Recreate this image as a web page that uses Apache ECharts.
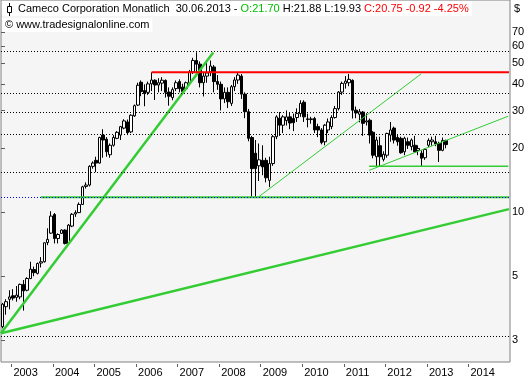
<!DOCTYPE html>
<html lang="de">
<head>
    <title>Cameco Corporation Monatlich</title>
    <meta charset="utf-8" />
    <script src="https://cdn.jsdelivr.net/npm/echarts@6/dist/echarts.min.js"></script>
    <style>
        body { margin: 0; background-color: #ffffff; }
        #main { width: 531px; height: 378px; }
    </style>
</head>
<body>
<div id="main"></div>
<script>
    // Monatskerzen ab Okt 2002, Achse bis Dez 2014
    let firstYear = 2002
    let firstMonth = 10
    let monthCount = 147

    let opens = [2.90, 3.60, 3.90,
        4.05, 3.98, 4.00, 4.58, 4.30, 4.88, 5.38, 5.16, 5.77, 5.85, 7.20, 7.97,
        9.75, 7.52, 7.95, 8.24, 7.13, 8.60, 9.80, 9.95, 10.87, 13.20, 13.40, 16.40,
        17.50, 17.00, 23.00, 22.00, 18.60, 20.60, 22.20, 23.00, 24.80, 26.50, 23.80, 28.30,
        31.80, 40.70, 37.20, 36.50, 40.00, 41.60, 39.50, 40.30, 41.50, 36.60, 34.50, 38.00,
        41.00, 38.60, 38.00, 40.50, 45.50, 51.50, 49.50, 40.50, 43.50, 45.50, 48.00, 41.00,
        39.80, 34.00, 36.50, 32.40, 38.80, 41.70, 43.50, 35.80, 29.60, 22.40, 18.90, 16.50,
        17.50, 17.50, 14.10, 16.90, 22.60, 27.60, 25.60, 26.90, 28.00, 27.50, 27.80, 29.00,
        32.80, 27.40, 27.20, 27.50, 25.20, 24.30, 21.40, 24.30, 25.20, 27.80, 30.60, 36.60,
        40.20, 40.50, 41.50, 30.10, 28.80, 29.50, 26.50, 27.00, 23.70, 18.20, 20.50, 17.70,
        18.50, 23.00, 24.80, 22.40, 22.20, 19.20, 21.40, 20.30, 20.60, 19.50, 18.90, 18.00,
        20.60, 21.40, 21.40, 21.00, 19.50, 21.70]
    let highs = [3.75, 3.90, 4.30,
        4.35, 4.50, 4.62, 4.80, 4.95, 5.85, 5.55, 5.80, 6.15, 7.20, 8.40, 10.10,
        9.90, 7.95, 8.30, 8.30, 8.80, 9.90, 10.20, 11.10, 13.30, 13.80, 16.60, 17.30,
        18.20, 22.60, 24.50, 22.50, 21.00, 23.00, 24.00, 25.40, 27.30, 27.20, 28.80, 32.00,
        40.50, 41.50, 39.80, 41.00, 45.30, 42.00, 42.50, 43.00, 42.00, 38.50, 38.50, 41.50,
        42.00, 40.00, 41.00, 46.50, 53.00, 56.30, 51.00, 45.50, 50.50, 51.50, 49.00, 44.00,
        41.00, 38.50, 38.50, 39.50, 43.00, 45.20, 44.50, 36.50, 30.50, 22.80, 21.80, 21.00,
        20.60, 18.00, 18.20, 23.00, 28.50, 29.50, 28.50, 30.00, 29.50, 29.00, 30.70, 33.50,
        33.50, 29.00, 28.00, 28.00, 26.00, 24.80, 25.90, 27.50, 28.50, 31.50, 37.00, 41.00,
        43.50, 44.50, 42.00, 31.30, 30.50, 29.80, 29.10, 27.50, 24.00, 22.60, 22.60, 19.30,
        23.60, 26.50, 25.20, 23.00, 22.60, 22.60, 22.40, 22.20, 22.80, 20.60, 19.50, 19.90,
        22.20, 22.60, 22.80, 21.40, 22.40, 21.88]
    let lows = [2.85, 3.30, 3.50,
        3.85, 3.80, 3.90, 3.45, 4.25, 4.85, 5.00, 5.10, 5.50, 5.80, 7.00, 7.90,
        7.13, 7.13, 7.90, 7.05, 7.05, 8.50, 9.50, 9.90, 10.80, 12.90, 13.20, 16.00,
        15.40, 16.90, 18.00, 18.20, 18.00, 20.30, 22.00, 21.80, 24.50, 23.00, 23.50, 28.00,
        31.50, 35.00, 31.40, 35.50, 37.00, 33.60, 36.50, 37.00, 34.50, 31.60, 33.50, 37.00,
        36.50, 35.50, 37.00, 39.80, 44.50, 45.00, 38.50, 34.90, 40.50, 43.50, 36.50, 37.50,
        30.00, 32.50, 30.80, 31.50, 37.00, 40.00, 34.00, 27.60, 21.50, 11.80, 11.80, 14.00,
        14.90, 13.80, 13.10, 16.50, 22.00, 22.80, 23.50, 25.50, 24.50, 24.00, 26.50, 28.00,
        26.50, 25.00, 26.00, 23.50, 22.50, 20.80, 20.60, 23.50, 24.50, 27.50, 30.00, 35.50,
        38.00, 39.00, 27.50, 27.60, 26.40, 22.80, 25.50, 21.00, 17.90, 16.30, 16.30, 17.30,
        18.00, 21.40, 21.00, 20.50, 18.80, 18.50, 19.80, 19.50, 19.00, 18.50, 16.40, 17.60,
        20.20, 20.50, 20.40, 17.20, 19.30, 19.93]
    let closes = [3.70, 3.80, 4.00,
        3.95, 4.08, 4.58, 4.27, 4.88, 5.40, 5.20, 5.74, 5.85, 7.18, 7.45, 9.58,
        7.52, 7.85, 8.24, 7.13, 8.69, 9.77, 9.95, 10.87, 13.15, 13.40, 16.40, 17.00,
        17.00, 22.40, 21.80, 19.20, 20.60, 22.40, 23.70, 25.20, 26.80, 23.60, 28.50, 31.60,
        39.40, 36.80, 36.00, 40.00, 41.70, 39.50, 40.50, 41.60, 36.50, 35.00, 37.60, 40.50,
        38.00, 36.80, 40.50, 45.50, 51.50, 49.50, 40.50, 43.50, 45.00, 48.50, 41.00, 39.80,
        34.00, 36.50, 33.00, 38.80, 41.70, 44.00, 35.80, 29.60, 22.20, 16.00, 16.00, 17.60,
        16.30, 14.50, 16.90, 22.60, 28.00, 25.60, 28.00, 28.00, 26.20, 26.30, 29.00, 32.40,
        28.00, 27.20, 27.40, 24.30, 24.30, 21.20, 25.60, 26.50, 27.80, 30.60, 36.60, 40.20,
        41.20, 42.00, 30.10, 29.20, 29.60, 26.10, 26.80, 23.00, 18.50, 21.80, 18.20, 18.70,
        23.40, 24.30, 21.80, 21.40, 19.00, 22.20, 20.60, 21.80, 19.20, 19.90, 17.90, 19.70,
        21.70, 21.80, 20.90, 19.50, 21.70, 20.75]

    // Preisachse (logarithmisch), Beschriftung gerundet
    let priceTicks = [70, 60, 50, 40, 30, 20, 10, 5, 2.5]
    let priceTop = 99
    let priceBottom = 1.98
    let dottedLevels = [57, 36.2, 29.5, 23.2, 15.4, 2.62]
    let blueLevel = 11.76
    let years = [2003, 2004, 2005, 2006, 2007, 2008, 2009, 2010, 2011, 2012, 2013, 2014]

    // Linien: [Monatsposition ab Okt 2002, Kurs]
    let steepTrend = [[0, 2.7], [61.3, 56.2]]
    let longTrend = [[0, 2.7], [146.7, 10.33]]
    let resistance = [[43.5, 45.3], [146.7, 45.3]]
    let supportLow = [[11.5, 11.76], [146.7, 11.76]]
    let recoveryTrend = [[74.3, 11.76], [121.3, 44.5]]
    let rangeTrend = [[106.3, 15.7], [146.5, 28.2]]
    let rangeLow = [[106.3, 16.4], [146.5, 16.4]]

    let months = []
    for (let i = 0; i < monthCount; i++) {
        let m = firstMonth - 1 + i
        let y = firstYear + Math.floor(m / 12)
        months.push(y + '-' + String(m % 12 + 1).padStart(2, '0'))
    }
    let candles = opens.map((o, i) => [Math.log(o), Math.log(closes[i]), Math.log(lows[i]), Math.log(highs[i])])
    let yearPos = years.map(y => (y - firstYear) * 12 - (firstMonth - 1))
    let logLine = pts => pts.map(p => [p[0], Math.log(p[1])])

    let font = 'Liberation Sans'
    let green = '#33cc33'

    let chart = echarts.init(document.getElementById('main'), null, {renderer: 'canvas'})

    function trend(name, pts, color, width) {
        return {
            name: name,
            type: 'line',
            xAxisIndex: 1,
            data: logLine(pts),
            showSymbol: false,
            silent: true,
            z: 4,
            animation: false,
            lineStyle: {color: color, width: width}
        }
    }

    chart.setOption({
        animation: false,
        title: [
            {
                left: 2,
                top: 1,
                padding: [2, 3, 2, 16],
                backgroundColor: '#ffffff',
                text: '{k|Cameco Corporation Monatlich  30.06.2013 - }{g|O:21.70}{k| H:21.88 L:19.93 }{r|C:20.75 -0.92 -4.25%}',
                textStyle: {
                    fontWeight: 'normal',
                    rich: {
                        k: {color: '#000000', fontFamily: font, fontSize: 11, fontWeight: 'normal'},
                        g: {color: '#00c000', fontFamily: font, fontSize: 11, fontWeight: 'normal'},
                        r: {color: '#ff0000', fontFamily: font, fontSize: 11, fontWeight: 'normal'}
                    }
                }
            },
            {
                left: 2,
                top: 18,
                padding: [1, 3, 2, 3],
                backgroundColor: '#ffffff',
                text: '© www.tradesignalonline.com',
                textStyle: {color: '#000000', fontFamily: font, fontSize: 11, fontWeight: 'normal'}
            }
        ],
        graphic: [
            {type: 'line', shape: {x1: 9.5, y1: 3, x2: 9.5, y2: 16}, style: {stroke: '#000', lineWidth: 1}, z: 10},
            {type: 'rect', shape: {x: 7.5, y: 6.5, width: 4, height: 6}, style: {fill: '#fff', stroke: '#000', lineWidth: 1}, z: 11},
            {type: 'text', left: 514, top: 3, style: {text: '$', font: '11px ' + font, fill: '#000'}}
        ],
        grid: {
            left: 1,
            right: 21,
            top: 0,
            bottom: 16,
            show: true,
            backgroundColor: '#f5f5f5',
            borderColor: '#808080',
            borderWidth: 1
        },
        xAxis: [
            {
                type: 'category',
                data: months,
                boundaryGap: true,
                show: false
            },
            {
                type: 'value',
                position: 'bottom',
                offset: 2,
                min: 0,
                max: monthCount,
                axisLine: {show: false},
                splitLine: {show: false},
                axisTick: {
                    show: true,
                    customValues: yearPos,
                    length: 3,
                    lineStyle: {color: '#606060'}
                },
                axisLabel: {
                    customValues: yearPos,
                    formatter: v => String(firstYear + Math.round((v + firstMonth - 1) / 12)),
                    align: 'left',
                    padding: [0, 0, 0, 2],
                    margin: 3,
                    color: '#000',
                    fontFamily: font,
                    fontSize: 11
                }
            }
        ],
        yAxis: {
            type: 'value',
            position: 'right',
            min: Math.log(priceBottom),
            max: Math.log(priceTop),
            axisLine: {show: false},
            splitLine: {show: false},
            axisTick: {
                show: true,
                customValues: priceTicks.map(Math.log),
                length: 4,
                lineStyle: {color: '#606060'}
            },
            axisLabel: {
                customValues: priceTicks.map(Math.log),
                formatter: v => String(Math.round(Math.exp(v))),
                margin: 2,
                color: '#000',
                fontFamily: font,
                fontSize: 11
            }
        },
        series: [
            {
                name: 'raster',
                type: 'line',
                xAxisIndex: 1,
                data: [],
                z: 1,
                markLine: {
                    silent: true,
                    symbol: 'none',
                    animation: false,
                    label: {show: false},
                    lineStyle: {color: '#000000', type: [1, 2], width: 1},
                    data: dottedLevels.map(v => ({yAxis: Math.log(v)})).concat([
                        {yAxis: Math.log(blueLevel), lineStyle: {color: '#0000ff', type: [1, 2], width: 1}}
                    ])
                }
            },
            {
                name: 'Cameco',
                type: 'candlestick',
                xAxisIndex: 0,
                data: candles,
                barWidth: 3,
                z: 3,
                itemStyle: {
                    color: '#ffffff',
                    color0: '#000000',
                    borderColor: '#000000',
                    borderColor0: '#000000',
                    borderWidth: 1
                }
            },
            trend('steep', steepTrend, green, 2.5),
            trend('long', longTrend, green, 2.5),
            trend('support', supportLow, green, 2),
            trend('resistance', resistance, '#ff0000', 2),
            trend('recovery', recoveryTrend, green, 1),
            trend('range', rangeTrend, green, 1),
            trend('rangeLow', rangeLow, green, 1.5)
        ]
    })
</script>
</body>
</html>
